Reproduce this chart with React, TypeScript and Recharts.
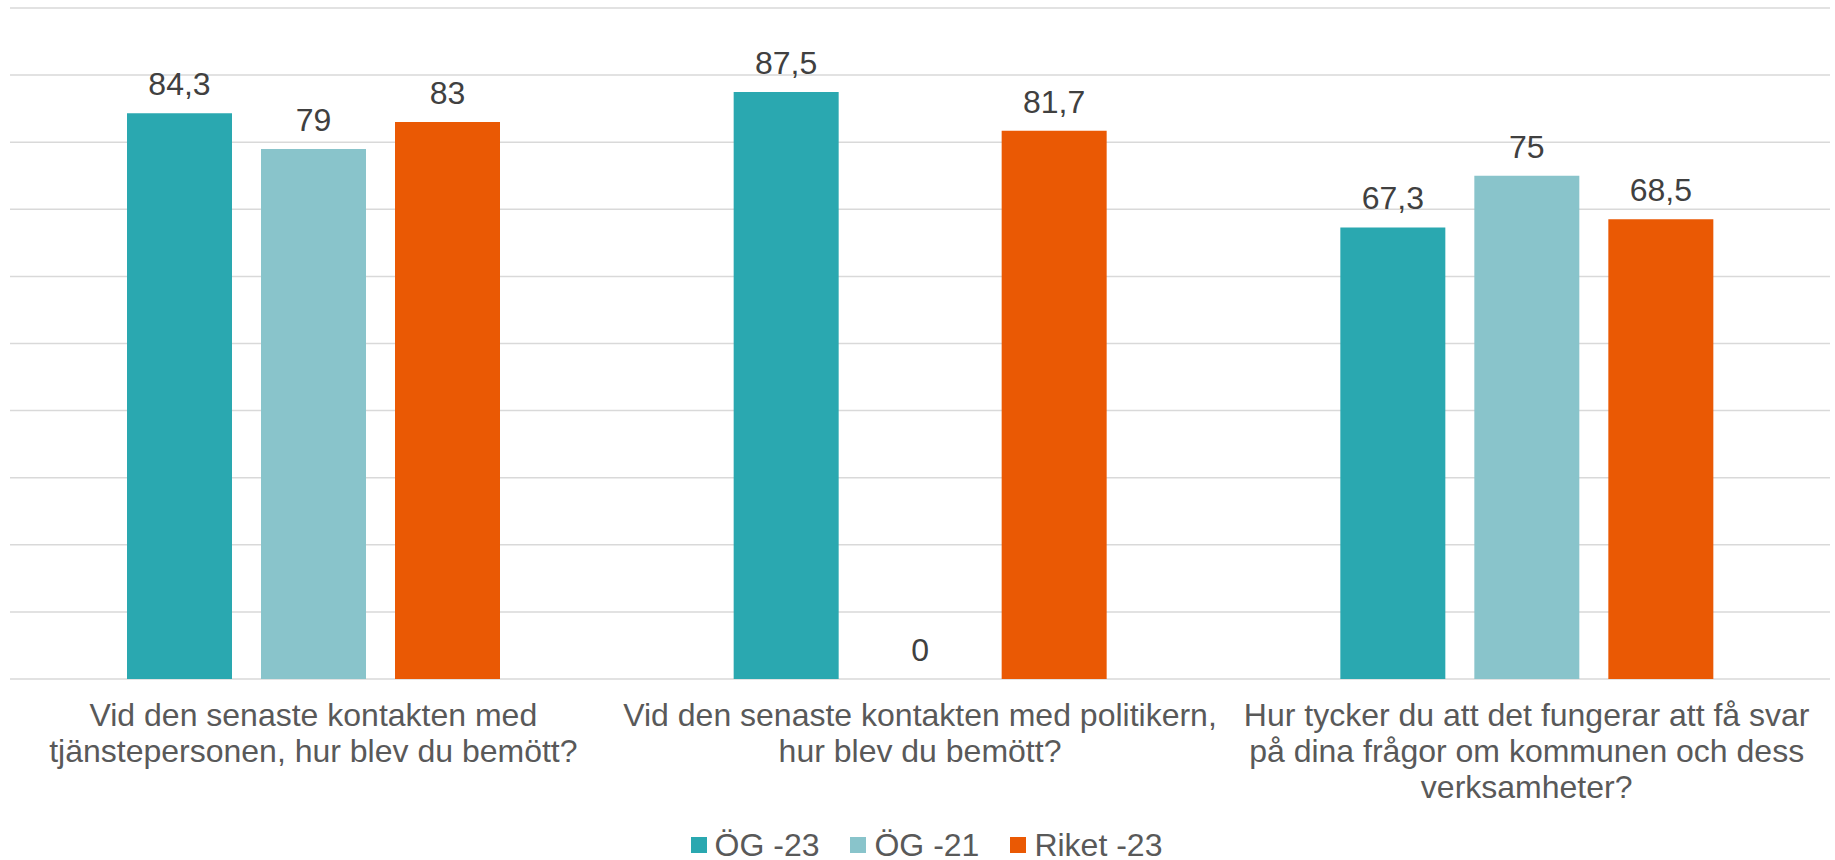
import React from 'react';
import { BarChart, Bar, XAxis, YAxis, CartesianGrid, Legend, LabelList } from 'recharts';

// Questions on the x axis (line breaks as in the original)
const categories = [
  'Vid den senaste kontakten med\ntjänstepersonen, hur blev du bemött?',
  'Vid den senaste kontakten med politikern,\nhur blev du bemött?',
  'Hur tycker du att det fungerar att få svar\npå dina frågor om kommunen och dess\nverksamheter?',
];

const og23 = [84.3, 87.5, 67.3];
const og21 = [79, 0, 75];
const riket23 = [83, 81.7, 68.5];

const yTicks = [0, 10, 20, 30, 40, 50, 60, 70, 80, 90, 100];

const SERIES = [
  { key: 'og23', name: 'ÖG -23', color: '#2AA8B0' },
  { key: 'og21', name: 'ÖG -21', color: '#89C4CB' },
  { key: 'riket23', name: 'Riket -23', color: '#EA5904' },
];

const FONT = '"Liberation Sans", Arial, sans-serif';
const FS = 32;

const data = categories.map((name, i) => ({
  name,
  og23: og23[i],
  og21: og21[i],
  riket23: riket23[i],
}));

const fmt = (v: any) => String(v).replace('.', ',');

const QuestionTick = ({ x, y, payload }: any) => {
  const lines = String(payload.value).split('\n');
  return (
    <text x={x} y={y} textAnchor="middle" fill="#595959" fontSize={FS} fontFamily={FONT}>
      {lines.map((line, i) => (
        <tspan key={i} x={x} dy={i === 0 ? 47 : 36}>
          {line}
        </tspan>
      ))}
    </text>
  );
};

const LegendContent = () => (
  <div
    style={{
      display: 'flex',
      justifyContent: 'center',
      alignItems: 'center',
      height: 30,
      paddingLeft: 18,
      fontFamily: FONT,
      fontSize: FS,
      color: '#595959',
    }}
  >
    {SERIES.map((s, i) => (
      <div key={s.key} style={{ display: 'flex', alignItems: 'center', marginRight: i < SERIES.length - 1 ? 31 : 0 }}>
        <span style={{ width: 16, height: 16, background: s.color, marginRight: 8, display: 'inline-block' }} />
        <span style={{ lineHeight: '30px' }}>{s.name}</span>
      </div>
    ))}
  </div>
);

export default function App() {
  return (
    <div style={{ position: 'absolute', left: 0, top: 0, width: 1835, height: 860, background: '#fff' }}>
      <BarChart
        width={1835}
        height={860}
        data={data}
        margin={{ top: 8, right: 5, left: 10, bottom: 0 }}
        barSize={105}
        barGap={29}
      >
        <CartesianGrid vertical={false} stroke="#D9D9D9" strokeWidth={1.5} />
        <XAxis
          dataKey="name"
          height={151}
          interval={0}
          axisLine={false}
          tickLine={false}
          tickSize={0}
          tickMargin={0}
          tick={<QuestionTick />}
        />
        <YAxis hide domain={[0, 100]} ticks={yTicks} />
        <Legend
          verticalAlign="bottom"
          content={<LegendContent />}
          wrapperStyle={{ left: 0, width: 1835, bottom: 0 }}
        />
        {SERIES.map((s) => (
          <Bar
            key={s.key}
            dataKey={s.key}
            name={s.name}
            fill={s.color}
            minPointSize={0.01}
            isAnimationActive={false}
          >
            <LabelList
              dataKey={s.key}
              position="top"
              offset={18}
              formatter={fmt}
              fill="#404040"
              fontSize={FS}
              fontFamily={FONT}
            />
          </Bar>
        ))}
      </BarChart>
    </div>
  );
}
